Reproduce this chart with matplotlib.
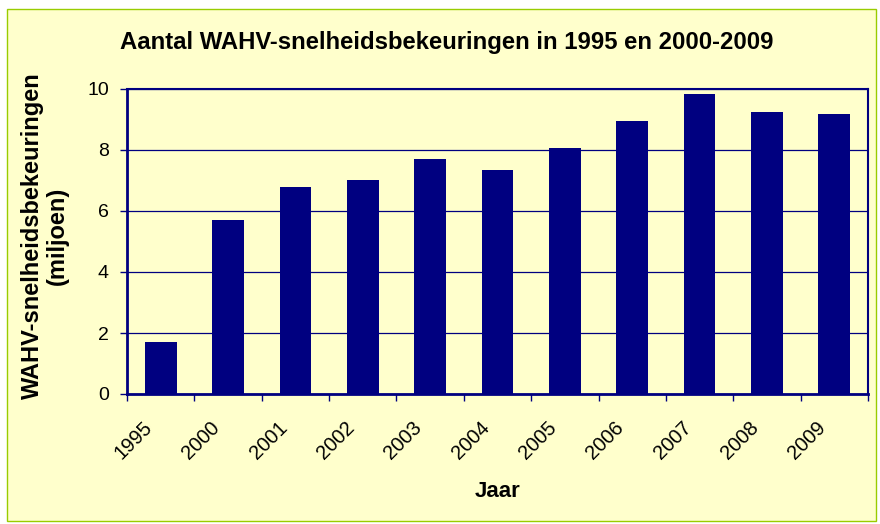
import matplotlib
matplotlib.use("Agg")
import matplotlib.pyplot as plt
from matplotlib.patches import Rectangle

plt.rcParams['font.family'] = ['Liberation Sans', 'DejaVu Sans']

years = ["1995", "2000", "2001", "2002", "2003", "2004", "2005", "2006", "2007", "2008", "2009"]
fines_millions = [1.72, 5.70, 6.80, 7.00, 7.72, 7.35, 8.05, 8.95, 9.83, 9.25, 9.19]
y_ticks = [0, 2, 4, 6, 8, 10]

bg = "#FFFFCC"
navy = "#000080"

fig = plt.figure(figsize=(8.8, 5.24), dpi=100, facecolor="white")
fig.patches.append(Rectangle((7 / 880, 3 / 524), 869 / 880, 512 / 524,
                             transform=fig.transFigure, facecolor=bg,
                             edgecolor="#99CC00", linewidth=1.0, zorder=-5))

ax = fig.add_axes([127 / 880, 1 - 394 / 524, (868 - 127) / 880, (394 - 89) / 524])
ax.set_facecolor(bg)

x = list(range(len(years)))
ax.bar(x, fines_millions, width=0.47, color=navy, zorder=3)

ax.set_xlim(-0.5, len(years) - 0.5)
ax.set_ylim(0, 10)
ax.set_yticks(y_ticks)
ax.set_yticklabels([str(t) for t in y_ticks], fontsize=14)
ax.yaxis.grid(True, color=navy, linewidth=0.9, zorder=1)

# category ticks sit on the boundaries between bars
ax.set_xticks([i - 0.5 for i in range(len(years) + 1)])
ax.set_xticklabels([])
ax.tick_params(axis="x", which="major", length=5, color=navy, width=1)
ax.tick_params(axis="y", length=5, color=navy, width=1, pad=8)

# slanted year labels under each bar
for i, year in zip(x, years):
    ax.annotate(year, xy=(i, 0), xycoords=("data", "axes fraction"),
                xytext=(-18, -24), textcoords="offset pixels",
                ha="right", va="top", rotation=45, rotation_mode="anchor",
                fontsize=14.5, annotation_clip=False)

for side in ["left", "bottom"]:
    ax.spines[side].set_color(navy)
    ax.spines[side].set_linewidth(2)
for side in ["top", "right"]:
    ax.spines[side].set_color(navy)
    ax.spines[side].set_linewidth(1.5)

ax.set_xlabel("Jaar", fontsize=16, fontweight="bold")
ax.xaxis.set_label_coords(0.5, -0.285)
ax.set_ylabel("WAHV-snelheidsbekeuringen\n(miljoen)", fontsize=17,
              fontweight="bold", linespacing=1.15)
ax.yaxis.set_label_coords(-0.078, 0.52)

fig.text(447 / 880, 1 - 42 / 524, "Aantal WAHV-snelheidsbekeuringen in 1995 en 2000-2009",
         ha="center", va="center", fontsize=17.2, fontweight="bold")

fig.savefig("out.png", dpi=100, facecolor="white")
